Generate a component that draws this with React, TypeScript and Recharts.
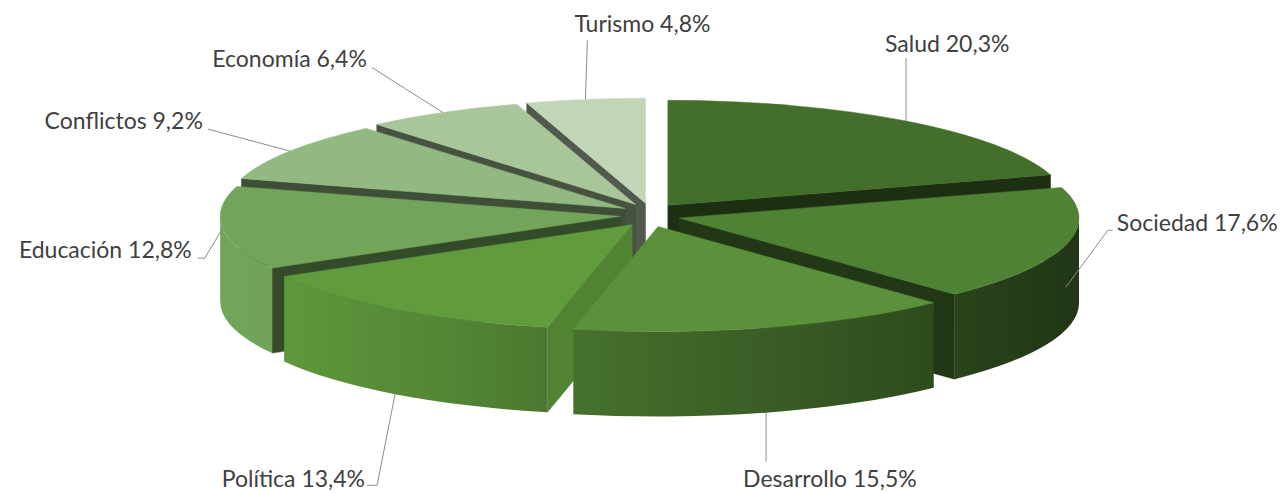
import React from 'react';
import { PieChart, Pie, Cell } from 'recharts';

// ---------- data ----------
const categories = ['Salud', 'Sociedad', 'Desarrollo', 'Política', 'Educación', 'Conflictos', 'Economía', 'Turismo'];
const shares = [20.3, 17.6, 15.5, 13.4, 12.8, 9.2, 6.4, 4.8];

// ---------- styles ----------
const topColors = ['#436f2b', '#4f8234', '#5a913a', '#609b3d', '#72a55a', '#93b982', '#a8c699', '#c1d6b7'];

const LABEL_LAYOUT = [
  { wall: 0, ex: 0, ey: -63, anchor: 'start', tx: -21, ty: -6, hook: 0 },
  { wall: 0.5, ex: 42, ey: -57, anchor: 'start', tx: 9, ty: 1, hook: 5 },
  { wall: 1, ex: 0, ey: 49, anchor: 'start', tx: -23, ty: 25, hook: 0 },
  { wall: 1, ex: -18, ey: 91, anchor: 'end', tx: -12, ty: 2, hook: -10 },
  { wall: 0, ex: -18, ey: 30, anchor: 'end', tx: -13, ty: 0, hook: -7 },
  { wall: 0, ex: -82, ey: -22, anchor: 'end', tx: -5, ty: 0, hook: 0 },
  { wall: 0, ex: -71, ey: -45, anchor: 'end', tx: -5, ty: 0, hook: 0 },
  { wall: 0, ex: 2, ey: -59, anchor: 'start', tx: -13, ty: -8, hook: 0 },
];

const data = categories.map((name, i) => ({ name, value: shares[i] }));

const W = 1288;
const H = 493;
const CX = 650;
const CY = 215;
const R = 400;
const TILT = 0.2625;
const DEPTH = 85;
const EXPLODE_X = 30;
const EXPLODE_Y = 12;
const WALL_BANDS = 16;

const rad = (d: number) => (d * Math.PI) / 180;

function hexToRgb(h: string) {
  const n = parseInt(h.slice(1), 16);
  return [(n >> 16) & 255, (n >> 8) & 255, n & 255];
}
function shade(h: string, f: number) {
  const [r, g, b] = hexToRgb(h);
  const c = (v: number) => Math.max(0, Math.min(255, Math.round(v * f)));
  return `rgb(${c(r)},${c(g)},${c(b)})`;
}

function geom(p: any) {
  const ts = 90 - p.startAngle;
  const te = 90 - p.endAngle;
  const tm = (ts + te) / 2;
  const rx = p.outerRadius;
  const ry = rx * TILT;
  const ox = p.cx + EXPLODE_X * Math.sin(rad(tm));
  const oy = p.cy - EXPLODE_Y * Math.cos(rad(tm));
  const pt = (t: number, dz = 0): [number, number] => [ox + rx * Math.sin(rad(t)), oy - ry * Math.cos(rad(t)) + dz];
  return { ts, te, tm, rx, ry, ox, oy, pt };
}

function idxOf(p: any) {
  const name = p.name ?? p.payload?.name;
  const i = categories.indexOf(name);
  return i < 0 ? (p.index ?? 0) : i;
}

const outerFactor = (t: number) => Math.max(0.3, Math.min(1, 0.72 - 0.3 * Math.sin(rad(t))));

// depth band of a radial wall (back to front) so that nearer walls are painted later
const bandOf = (t: number) => Math.min(WALL_BANDS - 1, Math.max(0, Math.floor(((-Math.cos(rad(t)) + 1) / 2) * WALL_BANDS)));

function makeRadialLayer(band: number) {
  return function RadialWalls(p: any) {
    const g = geom(p);
    const i = idxOf(p);
    const col = topColors[i];
    const out: any[] = [];
    const wall = (t: number, nx: number, ny: number, key: string) => {
      if (bandOf(t) !== band) return;
      const f = 0.42 + 0.55 * Math.max(0, nx) * (1 - ny);
      const a = g.pt(t);
      const b = g.pt(t, DEPTH);
      const d = `M${g.ox},${g.oy} L${a[0]},${a[1]} L${b[0]},${b[1]} L${g.ox},${g.oy + DEPTH} Z`;
      const fill = shade(col, f);
      out.push(<path key={key} d={d} fill={fill} stroke={fill} strokeWidth={0.5} />);
    };
    if (Math.sin(rad(g.ts)) < -0.01) wall(g.ts, -Math.cos(rad(g.ts)), -Math.sin(rad(g.ts)), 's');
    if (Math.sin(rad(g.te)) > 0.01) wall(g.te, Math.cos(rad(g.te)), Math.sin(rad(g.te)), 'e');
    return <g>{out}</g>;
  };
}
const radialLayers = Array.from({ length: WALL_BANDS }, (_, k) => makeRadialLayer(k));

function OuterWall(p: any) {
  const g = geom(p);
  const i = idxOf(p);
  const col = topColors[i];
  const a = Math.max(g.ts, 90);
  const b = Math.min(g.te, 270);
  if (b <= a) return <g />;
  const A = g.pt(a);
  const B = g.pt(b);
  const A2 = g.pt(a, DEPTH);
  const B2 = g.pt(b, DEPTH);
  const large = b - a > 180 ? 1 : 0;
  const d = `M${A[0]},${A[1]} A${g.rx},${g.ry} 0 ${large} 1 ${B[0]},${B[1]} L${B2[0]},${B2[1]} A${g.rx},${g.ry} 0 ${large} 0 ${A2[0]},${A2[1]} Z`;
  const id = `owg-${i}`;
  const stops = [];
  const N = 10;
  for (let k = 0; k <= N; k++) {
    const t = a + ((b - a) * k) / N;
    const x = g.pt(t)[0];
    const off = (x - A[0]) / (B[0] - A[0]);
    stops.push(<stop key={k} offset={Math.max(0, Math.min(1, off))} stopColor={shade(col, outerFactor(t))} />);
  }
  return (
    <g>
      <defs>
        <linearGradient id={id} gradientUnits="userSpaceOnUse" x1={A[0]} y1={0} x2={B[0]} y2={0}>
          {stops}
        </linearGradient>
      </defs>
      <path d={d} fill={`url(#${id})`} />
    </g>
  );
}

function TopFace(p: any) {
  const g = geom(p);
  const i = idxOf(p);
  const col = topColors[i];
  const A = g.pt(g.ts);
  const B = g.pt(g.te);
  const large = g.te - g.ts > 180 ? 1 : 0;
  const d = `M${g.ox},${g.oy} L${A[0]},${A[1]} A${g.rx},${g.ry} 0 ${large} 1 ${B[0]},${B[1]} Z`;
  return <path d={d} fill={col} stroke={col} strokeWidth={0.5} />;
}

function SliceLabel(p: any) {
  const g = geom(p);
  const i = idxOf(p);
  const L = LABEL_LAYOUT[i];
  const rim = g.pt(g.tm, DEPTH * L.wall);
  const ex = rim[0] + L.ex;
  const ey = rim[1] + L.ey;
  const hx = ex + L.hook;
  const txt = `${categories[i]} ${shares[i].toFixed(1).replace('.', ',')}%`;
  return (
    <g>
      <polyline points={`${rim[0]},${rim[1]} ${ex},${ey} ${hx},${ey}`} fill="none" stroke="#8c8c8c" strokeWidth={1} />
      <text x={ex + L.tx} y={ey + L.ty} textAnchor={L.anchor} fontFamily="Lato, 'Open Sans', sans-serif" fontSize={23} fill="#404040">
        {txt}
      </text>
    </g>
  );
}

export default function App() {
  const common = {
    data,
    dataKey: 'value',
    nameKey: 'name',
    cx: CX,
    cy: CY,
    outerRadius: R,
    innerRadius: 0,
    startAngle: 90,
    endAngle: -270,
    isAnimationActive: false,
    stroke: 'none',
  } as any;
  const cells = () => data.map((d, i) => <Cell key={d.name} fill={topColors[i]} />);
  return (
    <div style={{ position: 'absolute', left: 0, top: 0, width: W, height: H, background: '#ffffff' }}>
      <PieChart width={W} height={H} margin={{ top: 0, right: 0, bottom: 0, left: 0 }}>
        {radialLayers.map((shape, k) => (
          <Pie key={`rw-${k}`} {...common} shape={shape} label={false} labelLine={false}>
            {cells()}
          </Pie>
        ))}
        <Pie {...common} shape={OuterWall} label={false} labelLine={false}>
          {cells()}
        </Pie>
        <Pie {...common} shape={TopFace} label={SliceLabel} labelLine={false}>
          {cells()}
        </Pie>
      </PieChart>
    </div>
  );
}
